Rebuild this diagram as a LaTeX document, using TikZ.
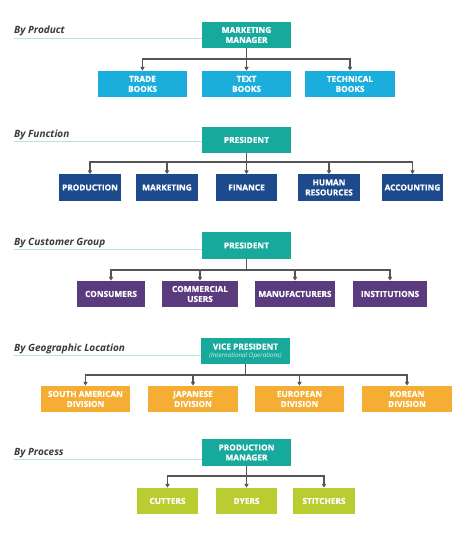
\documentclass[tikz,border=0pt]{standalone}
\usepackage{fontspec}
\setmainfont{Open Sans}[BoldFeatures={FakeBold=0.6}]
\usetikzlibrary{arrows.meta}
\definecolor{cteal}{HTML}{17A99B}
\definecolor{cblue}{HTML}{1BAEDC}
\definecolor{cnavy}{HTML}{1D4A8D}
\definecolor{cpurple}{HTML}{5A3B7E}
\definecolor{corange}{HTML}{F5AD33}
\definecolor{clime}{HTML}{BACD30}
\definecolor{cline}{HTML}{555555}
\definecolor{culine}{HTML}{B8E3E0}
\definecolor{clabel}{HTML}{3A3A3A}
\definecolor{csub}{HTML}{D2EFEC}
\tikzset{
  box/.style={rectangle, inner sep=0pt, align=center, text=white,
    font=\fontsize{8.3}{10}\selectfont\bfseries, minimum height=26.5pt},
  conn/.style={draw=cline, line width=1.1pt},
  arr/.style={conn, -{Triangle[length=3.6pt,width=4.2pt]}},
  lbl/.style={inner sep=0pt, text=clabel, font=\fontsize{10}{12}\selectfont\bfseries\itshape},
  uline/.style={draw=culine, line width=0.9pt},
}
\begin{document}
\begin{tikzpicture}[x=1pt,y=-1pt]
\useasboundingbox[fill=white] (0,0) rectangle (474,540);

% ---------- By Product ----------
\node[lbl, anchor=base west] (l1) at (14,34) {By Product};
\coordinate (u1) at (14,38);
\node[box, fill=cteal, minimum width=89pt] (mm) at (246.5,35) {MARKETING\\MANAGER};
\draw[uline] (u1) -- (u1 -| mm.west);
\node[box, fill=cblue, minimum width=89pt] (trade) at (142.5,84) {TRADE\\BOOKS};
\node[box, fill=cblue, minimum width=89pt] (textb) at (246.5,84) {TEXT\\BOOKS};
\node[box, fill=cblue, minimum width=90pt] (tech) at (350,84) {TECHNICAL\\BOOKS};
\coordinate (b1) at (246.5,59);
\draw[conn] (mm.south) -- (b1);
\draw[arr] (b1) -| (trade.north);
\draw[arr] (b1) -- (textb.north);
\draw[arr] (b1) -| (tech.north);

% ---------- By Function ----------
\node[lbl, anchor=base west] (l2) at (14,137.5) {By Function};
\coordinate (u2) at (14,141.5);
\node[box, fill=cteal, minimum width=89pt] (pres1) at (246.5,140) {PRESIDENT};
\draw[uline] (u2) -- (u2 -| pres1.west);
\node[box, fill=cnavy, minimum width=62pt] (prod) at (90,187.5) {PRODUCTION};
\node[box, fill=cnavy, minimum width=62pt] (mkt) at (167,187.5) {MARKETING};
\node[box, fill=cnavy, minimum width=61pt] (fin) at (246.5,187.5) {FINANCE};
\node[box, fill=cnavy, minimum width=62pt] (hr) at (329,187.5) {HUMAN\\RESOURCES};
\node[box, fill=cnavy, minimum width=61pt] (acc) at (412.5,187.5) {ACCOUNTING};
\coordinate (b2) at (246.5,162);
\draw[conn] (pres1.south) -- (b2);
\draw[arr] (b2) -| (prod.north);
\draw[arr] (b2) -| (mkt.north);
\draw[arr] (b2) -- (fin.north);
\draw[arr] (b2) -| (hr.north);
\draw[arr] (b2) -| (acc.north);

% ---------- By Customer Group ----------
\node[lbl, anchor=base west] (l3) at (14,245.5) {By Customer Group};
\coordinate (u3) at (14,249.5);
\node[box, fill=cteal, minimum width=89pt] (pres2) at (246.5,245.5) {PRESIDENT};
\draw[uline] (u3) -- (u3 -| pres2.west);
\node[box, fill=cpurple, minimum width=68pt] (cons) at (111,294) {CONSUMERS};
\node[box, fill=cpurple, minimum width=76pt] (comm) at (200,294) {COMMERCIAL\\USERS};
\node[box, fill=cpurple, minimum width=80pt] (manu) at (295,294) {MANUFACTURERS};
\node[box, fill=cpurple, minimum width=74pt] (inst) at (390,294) {INSTITUTIONS};
\coordinate (b3) at (246.5,270);
\draw[conn] (pres2.south) -- (b3);
\draw[arr] (b3) -| (cons.north);
\draw[arr] (b3) -| (comm.north);
\draw[arr] (b3) -| (manu.north);
\draw[arr] (b3) -| (inst.north);

% ---------- By Geographic Location ----------
\node[lbl, anchor=base west] (l4) at (14,351) {By Geographic Location};
\coordinate (u4) at (14,355);
\node[box, fill=cteal, minimum width=89pt] (vp) at (245.5,351)
  {VICE PRESIDENT\\[-2.5pt]{\fontsize{6.3}{7}\selectfont\mdseries\itshape\color{csub}(International Operations)}};
\draw[uline] (u4) -- (u4 -| vp.west);
\node[box, fill=corange, minimum width=89pt] (sa) at (85.5,399) {SOUTH AMERICAN\\DIVISION};
\node[box, fill=corange, minimum width=90pt] (jp) at (193,399) {JAPANESE\\DIVISION};
\node[box, fill=corange, minimum width=89pt] (eu) at (299.5,399) {EUROPEAN\\DIVISION};
\node[box, fill=corange, minimum width=90pt] (kr) at (407,399) {KOREAN\\DIVISION};
\coordinate (b4) at (245.5,375);
\draw[conn] (vp.south) -- (b4);
\draw[arr] (b4) -| (sa.north);
\draw[arr] (b4) -| (jp.north);
\draw[arr] (b4) -| (eu.north);
\draw[arr] (b4) -| (kr.north);

% ---------- By Process ----------
\node[lbl, anchor=base west] (l5) at (14,455) {By Process};
\coordinate (u5) at (14,459);
\node[box, fill=cteal, minimum width=89pt] (pm) at (246.5,452.5) {PRODUCTION\\MANAGER};
\draw[uline] (u5) -- (u5 -| pm.west);
\node[box, fill=clime, minimum width=61pt] (cut) at (167.5,501) {CUTTERS};
\node[box, fill=clime, minimum width=61pt] (dye) at (246.5,501) {DYERS};
\node[box, fill=clime, minimum width=62pt] (sti) at (324,501) {STITCHERS};
\coordinate (b5) at (246.5,476);
\draw[conn] (pm.south) -- (b5);
\draw[arr] (b5) -| (cut.north);
\draw[arr] (b5) -- (dye.north);
\draw[arr] (b5) -| (sti.north);
\end{tikzpicture}
\end{document}
